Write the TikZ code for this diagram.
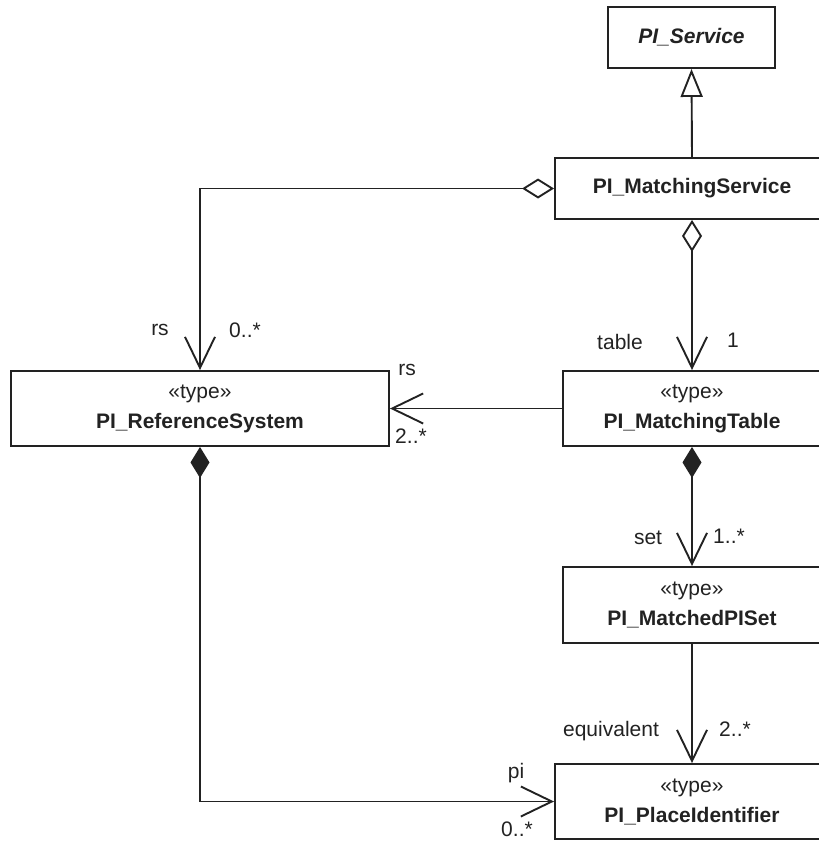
\documentclass[tikz,border=0pt]{standalone}
\usepackage{fontspec}
\setmainfont{Liberation Sans}
\usetikzlibrary{arrows.meta}
\definecolor{ink}{HTML}{222222}
\begin{document}
\begin{tikzpicture}[x=1pt,y=-1pt,
  umlbox/.style={draw=ink, line width=1.9pt, rectangle, align=center,
    text=ink, inner sep=0pt, font=\fontsize{21}{30}\selectfont},
  lbl/.style={text=ink, inner sep=0pt, font=\fontsize{21}{25}\selectfont},
  conn/.style={draw=ink, line width=1.9pt},
  nav/.style={-{Straight Barb[length=31pt,width=30pt]}},
  gen/.style={-{Triangle[open,length=28pt,width=22pt]}},
  aggr/.style={{Diamond[open,length=32pt,width=20pt]}-{Straight Barb[length=31pt,width=30pt]}},
  comp/.style={{Diamond[fill=ink,length=31pt,width=19pt]}-{Straight Barb[length=31pt,width=30pt]}}
]
\useasboundingbox (0,0) rectangle (819,841);
\clip (0,0) rectangle (819,841);

% classes
\node[umlbox, minimum width=167pt, minimum height=61pt] (svc) at (691.5,37.5)
  {\textbf{\textit{PI\_Service}}};
\node[umlbox, minimum width=274pt, minimum height=61pt] (ms) at (692,188.5)
  {\textbf{PI\_MatchingService}};
\node[umlbox, minimum width=378pt, minimum height=75pt] (rs) at (200,408.5)
  {«type»\\\textbf{PI\_ReferenceSystem}};
\node[umlbox, minimum width=258pt, minimum height=75pt] (mt) at (692,408.5)
  {«type»\\\textbf{PI\_MatchingTable}};
\node[umlbox, minimum width=258pt, minimum height=76pt] (mps) at (692,605)
  {«type»\\\textbf{PI\_MatchedPISet}};
\node[umlbox, minimum width=274pt, minimum height=75pt] (pid) at (692,801.5)
  {«type»\\\textbf{PI\_PlaceIdentifier}};

% relations
\draw[conn, gen] (ms.north) -- (svc.south);
\draw[conn, aggr] (ms.west) -| (rs.north);
\draw[conn, aggr] (ms.south) -- (mt.north);
\draw[conn, nav] (mt.west) -- (rs.east);
\draw[conn, comp] (mt.south) -- (mps.north);
\draw[conn, nav] (mps.south) -- (pid.north);
\draw[conn, comp] (rs.south) |- (pid.west);

% role names and multiplicities
\node[lbl] (l1) at (160,330) {rs};
\node[lbl] (l2) at (245,330) {0..*};
\node[lbl] (l3) at (620,342) {table};
\node[lbl] (l4) at (733,340) {1};
\node[lbl] (l5) at (407,370) {rs};
\node[lbl] (l6) at (411,436) {2..*};
\node[lbl] (l7) at (648,538) {set};
\node[lbl] (l8) at (729,536) {1..*};
\node[lbl] (l9) at (611,731) {equivalent};
\node[lbl] (l10) at (735,729) {2..*};
\node[lbl] (l11) at (516,773) {pi};
\node[lbl] (l12) at (517,829) {0..*};
\end{tikzpicture}
\end{document}
